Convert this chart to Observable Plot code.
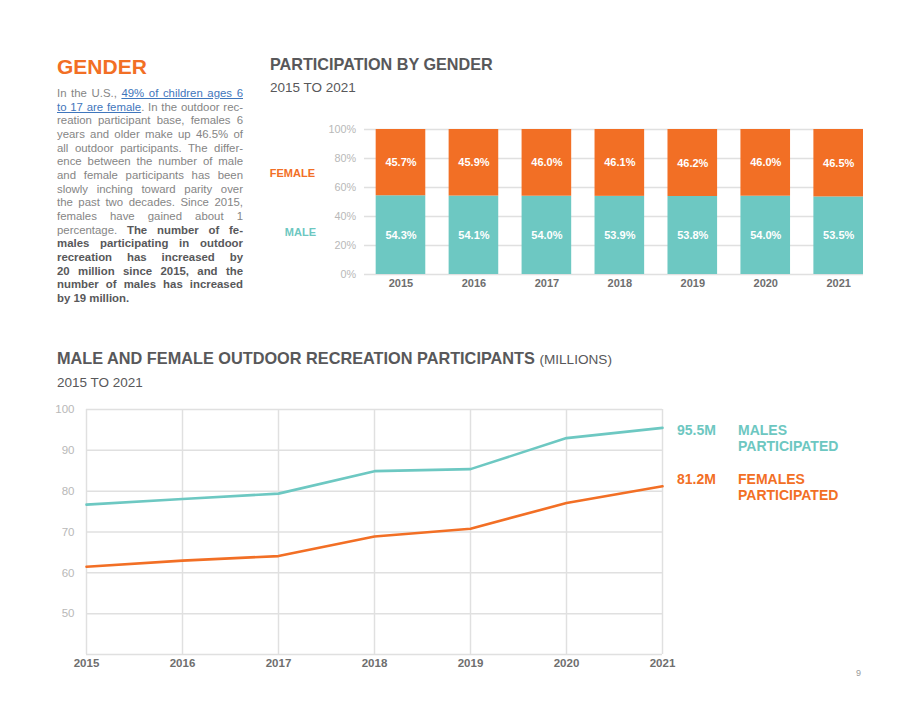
<!DOCTYPE html>
<html>
<head>
<meta charset="utf-8">
<script src="https://cdn.jsdelivr.net/npm/d3@7"></script>
<script src="https://cdn.jsdelivr.net/npm/@observablehq/plot@0.6"></script>
<style>
  html, body { margin: 0; padding: 0; background: #fff; }
  #page { position: relative; width: 920px; height: 711px; overflow: hidden; font-family: "Liberation Sans", Arial, sans-serif; }
  .abs { position: absolute; white-space: nowrap; line-height: 1; }
  .h1 { font-size: 21px; font-weight: bold; color: #f26f25; }
  .h2 { font-size: 16px; font-weight: bold; color: #58585a; }
  .h2 span { font-weight: normal; font-size: 13.6px; }
  .sub { font-size: 13.5px; color: #58585a; }
  #body { position: absolute; left: 57px; top: 87px; width: 186px; font-size: 11.4px; line-height: 13.67px; color: #858585; }
  #body div { text-align: justify; text-align-last: justify; }
  #body div.last { text-align-last: left; }
  #body b { color: #58585a; }
  #body .lnk { color: #3f76bc; text-decoration: underline; }
  .lbl { font-size: 11px; font-weight: bold; text-align: right; }
  .end { font-size: 14px; font-weight: bold; line-height: 16.5px; }
  .plot { position: absolute; }
</style>
</head>
<body>
<div id="page">
  <div class="abs h1" style="left:57px; top:55.5px;">GENDER</div>
  <div id="body">
    <div>In the U.S., <span class="lnk">49% of children ages 6</span></div>
    <div><span class="lnk">to 17 are female</span>. In the outdoor rec-</div>
    <div>reation participant base, females 6</div>
    <div>years and older make up 46.5% of</div>
    <div>all outdoor participants. The differ-</div>
    <div>ence between the number of male</div>
    <div>and female participants has been</div>
    <div>slowly inching toward parity over</div>
    <div>the past two decades. Since 2015,</div>
    <div>females have gained about 1</div>
    <div>percentage. <b>The number of fe-</b></div>
    <div><b>males participating in outdoor</b></div>
    <div><b>recreation has increased by</b></div>
    <div><b>20 million since 2015, and the</b></div>
    <div><b>number of males has increased</b></div>
    <div class="last"><b>by 19 million.</b></div>
  </div>

  <div class="abs h2" style="left:270px; top:56px; font-size:16.2px;">PARTICIPATION BY GENDER</div>
  <div class="abs sub" style="left:270px; top:80.5px;">2015 TO 2021</div>
  <div class="abs lbl" id="lblF" style="right:605px; top:167.5px; color:#f26f25;">FEMALE</div>
  <div class="abs lbl" id="lblM" style="right:604px; top:226.5px; color:#6dc7c1;">MALE</div>
  <div class="plot" id="bars" style="left:300px; top:110px;"></div>

  <div class="abs h2" style="left:57px; top:350px; font-size:16.3px;">MALE AND FEMALE OUTDOOR RECREATION PARTICIPANTS <span>(MILLIONS)</span></div>
  <div class="abs sub" style="left:57px; top:375.5px;">2015 TO 2021</div>
  <div class="plot" id="lines" style="left:50px; top:395px;"></div>

  <div class="abs end" id="mVal" style="left:677px; top:421.5px; color:#6dc7c1;"></div>
  <div class="abs end" style="left:738px; top:421.5px; color:#6dc7c1;">MALES<br>PARTICIPATED</div>
  <div class="abs end" id="fVal" style="left:677px; top:470.5px; color:#f26f25;"></div>
  <div class="abs end" style="left:738px; top:470.5px; color:#f26f25;">FEMALES<br>PARTICIPATED</div>

  <div class="abs" style="left:856px; top:669px; font-size:9px; color:#9a9a9a;">9</div>
</div>
<script>
// Survey years
const years = [2015, 2016, 2017, 2018, 2019, 2020, 2021];

// Share of outdoor participants by gender (percent)
const maleShare = [54.3, 54.1, 54.0, 53.9, 53.8, 54.0, 53.5];
const femaleShare = [45.7, 45.9, 46.0, 46.1, 46.2, 46.0, 46.5];

// Outdoor recreation participants (millions)
const maleMillions = [76.7, 78.1, 79.4, 84.9, 85.4, 93.0, 95.5];
const femaleMillions = [61.5, 63.0, 64.1, 68.9, 70.8, 77.1, 81.2];

// Axis ticks
const shareTicks = [0, 20, 40, 60, 80, 100];
const millionTicks = [50, 60, 70, 80, 90, 100];
const millionGrid = [40, 50, 60, 70, 80, 90, 100];

const TEAL = "#6dc8c2";
const ORANGE = "#f26f25";
const GRID = "#e0e0e0";
const FONT = "'Liberation Sans', Arial, sans-serif";

// Stacked share bars: male at the bottom, female on top
const shares = [
  ...years.map((year, i) => ({year, gender: "Male", share: maleShare[i]})),
  ...years.map((year, i) => ({year, gender: "Female", share: femaleShare[i]}))
];

const bars = Plot.plot({
  width: 570,
  height: 185,
  marginLeft: 64,
  marginRight: 7,
  marginTop: 19,
  marginBottom: 21,
  style: {fontFamily: FONT, background: "transparent"},
  x: {type: "band", domain: years, paddingInner: 0.32, paddingOuter: 0.08, align: 1, round: false},
  y: {domain: [0, 100]},
  color: {domain: ["Male", "Female"], range: [TEAL, ORANGE]},
  marks: [
    Plot.ruleY(shareTicks, {stroke: GRID, strokeWidth: 1.5}),
    Plot.barY(shares, Plot.stackY({x: "year", y: "share", z: "gender", fill: "gender"})),
    Plot.text(shares, Plot.stackY({
      x: "year", y: "share", z: "gender",
      text: d => d.share.toFixed(1) + "%",
      fill: "white", fontWeight: "bold", fontSize: 11
    })),
    Plot.axisY({ticks: shareTicks, tickSize: 0, tickPadding: 8.5, tickFormat: d => d + "%", color: "#b8b8b8", fontSize: 10.8, label: null}),
    Plot.axisX({tickSize: 0, tickPadding: 5, tickFormat: d => String(d), color: "#6e6e6e", fontWeight: "bold", fontSize: 11, label: null})
  ]
});
document.getElementById("bars").appendChild(bars);

// Participant counts over time
const counts = [
  ...years.map((year, i) => ({year, gender: "Male", value: maleMillions[i]})),
  ...years.map((year, i) => ({year, gender: "Female", value: femaleMillions[i]}))
];

const lines = Plot.plot({
  width: 640,
  height: 280,
  marginLeft: 36,
  marginRight: 28,
  marginTop: 14,
  marginBottom: 21,
  style: {fontFamily: FONT, background: "transparent"},
  x: {type: "linear", domain: [2015, 2021]},
  y: {domain: [40, 100]},
  color: {domain: ["Male", "Female"], range: [TEAL, ORANGE]},
  marks: [
    Plot.ruleY(millionGrid, {stroke: GRID, strokeWidth: 1.5}),
    Plot.ruleX(years, {stroke: GRID, strokeWidth: 1.5}),
    Plot.line(counts, {x: "year", y: "value", z: "gender", stroke: "gender", strokeWidth: 2.6}),
    Plot.axisY({ticks: millionTicks, tickSize: 0, tickPadding: 12, color: "#b8b8b8", fontSize: 11.5, label: null}),
    Plot.axisX({ticks: years, tickSize: 0, tickPadding: 4, tickFormat: d => String(d), color: "#6e6e6e", fontWeight: "bold", fontSize: 11.5, label: null})
  ]
});
document.getElementById("lines").appendChild(lines);

// End-of-series values next to the line chart
document.getElementById("mVal").textContent = maleMillions[maleMillions.length - 1].toFixed(1) + "M";
document.getElementById("fVal").textContent = femaleMillions[femaleMillions.length - 1].toFixed(1) + "M";
</script>
</body>
</html>
